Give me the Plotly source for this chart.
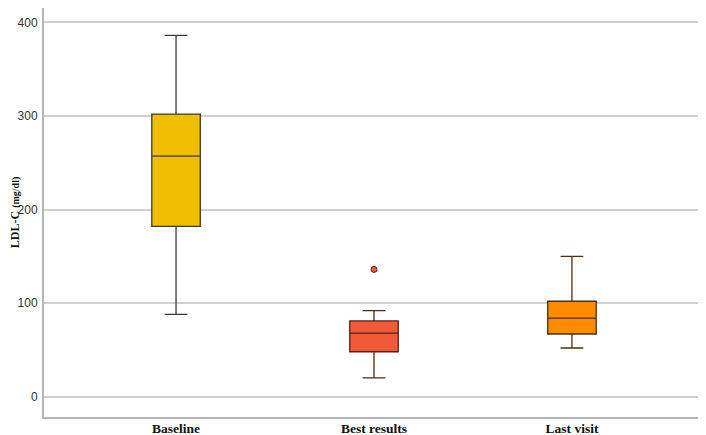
import plotly.graph_objects as go

groups = ["Baseline", "Best results", "Last visit"]
lower = [88, 20, 52]
q1 = [182, 48, 67]
median = [257, 68, 84]
q3 = [302, 81, 102]
upper = [386, 92, 150]
colors = ["#EFBE00", "#F15A36", "#FF8C00"]
edges = ["#3a3a3a", "#5a2318", "#4a3010"]

outlier_group = ["Best results"]
outlier_value = [136]

fig = go.Figure()
for i, g in enumerate(groups):
    fig.add_trace(go.Box(
        x=[g], q1=[q1[i]], median=[median[i]], q3=[q3[i]],
        lowerfence=[lower[i]], upperfence=[upper[i]],
        fillcolor=colors[i], line=dict(color=edges[i], width=1.3),
        width=0.245, whiskerwidth=0.47, showlegend=False,
        hoverinfo="y",
    ))

fig.add_trace(go.Scatter(
    x=outlier_group, y=outlier_value, mode="markers",
    marker=dict(size=6, color="#F15A36", line=dict(color="#5a2318", width=1)),
    showlegend=False,
))

# page has an 8px body margin, so the figure is sized to the visible area
fig.update_layout(
    width=698, height=427,
    margin=dict(l=36, r=2, t=0, b=18),
    plot_bgcolor="white", paper_bgcolor="white",
    font=dict(family="Liberation Sans, Arial", size=12, color="#333"),
)
fig.update_xaxes(
    range=[-0.667, 2.667], showgrid=False, automargin=False,
    showline=True, linecolor="#b4b4b4", linewidth=2,
    ticks="", ticklabelstandoff=-2,
    tickfont=dict(family="Liberation Serif, Times New Roman", size=13.5, color="#111"),
    tickprefix="<b>", ticksuffix="</b>",
)
fig.update_yaxes(
    range=[-21.7, 415.3], tickvals=[0, 100, 200, 300, 400], automargin=False,
    showgrid=True, gridcolor="#cfcfcf", gridwidth=1.5, zeroline=False,
    showline=True, linecolor="#b4b4b4", linewidth=2,
    ticks="", ticklabelstandoff=2, tickfont=dict(size=12, color="#333"),
    title=dict(
        text="<b>LDL-C <span style='font-size:10px'>(mg/dl)</span></b>",
        font=dict(family="Liberation Serif, Times New Roman", size=12, color="#111"),
    ),
)

fig.write_html("out.html")
